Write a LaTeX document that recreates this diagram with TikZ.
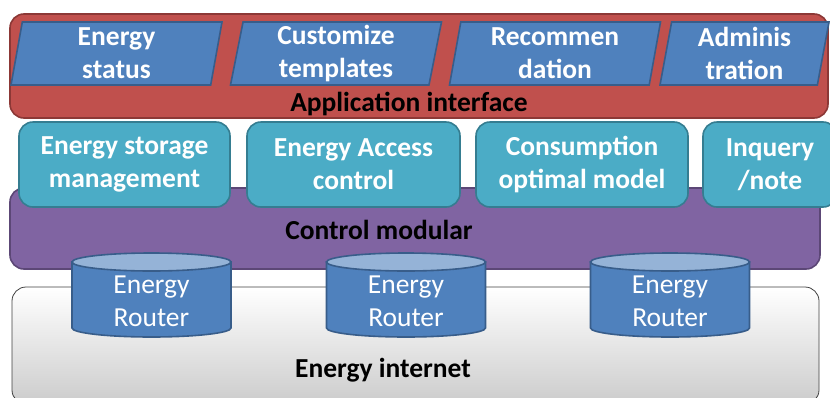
\documentclass[tikz,border=0pt]{standalone}
\usepackage{fontspec}
\setmainfont{Carlito}
\usetikzlibrary{shapes.geometric}
\definecolor{appRed}{HTML}{C0504D}
\definecolor{appRedEdge}{HTML}{8C3836}
\definecolor{funcBlue}{HTML}{4F81BD}
\definecolor{funcBlueEdge}{HTML}{385D8A}
\definecolor{modTeal}{HTML}{4BACC6}
\definecolor{modTealEdge}{HTML}{357D91}
\definecolor{ctrlPurple}{HTML}{8064A2}
\definecolor{ctrlPurpleEdge}{HTML}{5C4776}
\definecolor{routerTop}{HTML}{95B3D7}
\newcommand{\layerfont}{\fontsize{27.5}{33}\selectfont}
\begin{document}
\begin{tikzpicture}[x=1pt,y=-1pt,
  layerbox/.style={rounded corners=14pt,line width=1.6pt},
  funcpara/.style={trapezium,trapezium left angle=77.5,trapezium right angle=102.5,
    trapezium stretches body,minimum width=211pt,minimum height=63pt,inner sep=0pt,
    fill=funcBlue,draw=funcBlueEdge,line width=1.6pt,text=white,font=\layerfont\bfseries,align=center},
  modbox/.style={rectangle,rounded corners=14pt,minimum height=85pt,inner sep=0pt,
    fill=modTeal,draw=modTealEdge,line width=1.6pt,text=white,font=\layerfont\bfseries,align=center},
  router/.style={fill=funcBlue,draw=funcBlueEdge,line width=1.6pt},
  routercap/.style={fill=routerTop,draw=funcBlueEdge,line width=1.6pt},
  routertext/.style={text=white,font=\layerfont,align=center},
  layerlabel/.style={font=\layerfont\bfseries,text=black}]
\clip (0,0) rectangle (830,397);

% Energy internet
\draw[layerbox,line width=0.8pt,draw=black!75,top color=white,bottom color=black!20] (12,287) rectangle (819,404);
\node[layerlabel] (internet) at (383,370) {Energy internet};

% Control modular
\draw[layerbox,fill=ctrlPurple,draw=ctrlPurpleEdge] (10,188) rectangle (820,269);
\node[layerlabel] (control) at (379,230) {Control modular};

% Modules
\node[modbox,minimum width=211pt] (storage) at (124.5,164.5) {Energy storage\\management};
\node[modbox,minimum width=213pt] (access) at (353.5,164.5) {Energy Access\\control};
\node[modbox,minimum width=212pt] (consume) at (582,164.5) {Consumption\\optimal model};
\node[modbox,minimum width=134pt] (inquery) at (770,164.5) {Inquery\\/note};

% Application interface
\draw[layerbox,fill=appRed,draw=appRedEdge] (10,14) rectangle (828,118);
\node[layerlabel] (appif) at (409,104) {Application interface};

\node[funcpara] (status) at (116.5,53.5) {Energy\\status};
\node[funcpara] (templates) at (336,53.5) {Customize\\templates};
\node[funcpara] (recommend) at (555,53.5) {Recommen\\dation};
\node[funcpara,minimum width=169pt] (admin) at (744.5,53.5) {Adminis\\tration};

% Energy routers
\foreach \cx/\nm in {151.5/routerA,406/routerB,670/routerC}{
  \filldraw[router] (\cx-79.5,262) -- (\cx-79.5,328)
    arc[start angle=180,end angle=0,x radius=79.5,y radius=9] -- (\cx+79.5,262) -- cycle;
  \filldraw[routercap] (\cx,262) ellipse[x radius=79.5,y radius=9];
  \node[routertext] (\nm) at (\cx,301) {Energy\\Router};
}
\end{tikzpicture}
\end{document}
